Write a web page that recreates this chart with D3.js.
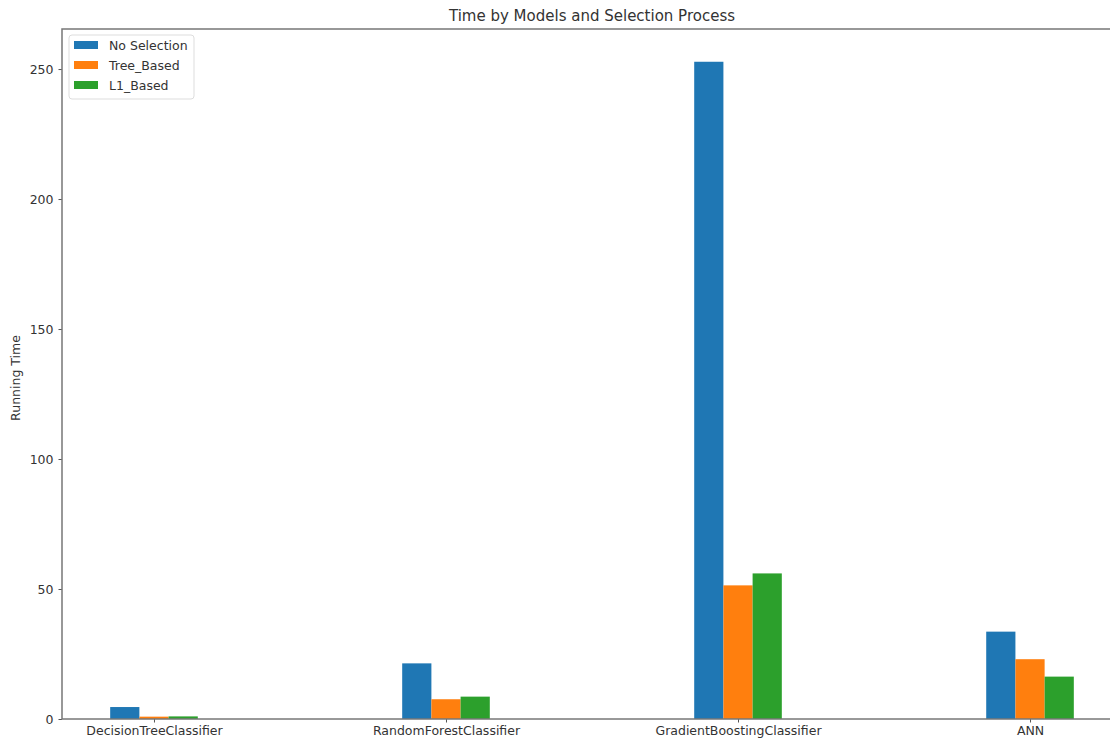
<!DOCTYPE html>
<html><head><meta charset="utf-8">
<script src="https://cdn.jsdelivr.net/npm/d3@7"></script>
<style>
html,body{margin:0;padding:0;background:#fff;overflow:hidden;}
svg{display:block;font-family:"DejaVu Sans",sans-serif;}
</style></head>
<body>
<svg id="chart" width="1110" height="742"></svg>
<script>
const categories = ["DecisionTreeClassifier","RandomForestClassifier","GradientBoostingClassifier","ANN"];
const seriesNames = ["No Selection","Tree_Based","L1_Based"];
const noSelection = [4.6, 21.4, 252.8, 33.6];
const treeBased = [0.9, 7.6, 51.4, 23.0];
const l1Based = [1.0, 8.6, 56.0, 16.3];
const colors = ["#1f77b4","#ff7f0e","#2ca02c"];
const yTicks = [0,50,100,150,200,250];
const title = "Time by Models and Selection Process";
const yLabel = "Running Time";

(function(){
const series = [noSelection, treeBased, l1Based];
const svg = d3.select("#chart");
const mLeft = 62, mRight = 1122, mTop = 29, mBottom = 719;
const barW = 0.1;
const x = d3.scaleLinear().domain([-0.315, 3.315]).range([mLeft, mRight]);
const y = d3.scaleLinear().domain([0, 265.4]).range([mBottom, mTop]);

series.forEach((vals, si) => {
  svg.append("g").selectAll("rect").data(vals).join("rect")
    .attr("x", (d,i) => x(i + (si-1)*barW - barW/2))
    .attr("width", (d,i) => x(i + (si-1)*barW + barW/2) - x(i + (si-1)*barW - barW/2))
    .attr("y", d => y(d))
    .attr("height", d => y(0) - y(d))
    .attr("fill", colors[si]);
});

const xAxis = d3.axisBottom(x).tickValues(d3.range(categories.length))
  .tickFormat(i => categories[i]).tickSize(3.5).tickPadding(4);
const gx = svg.append("g").attr("transform", `translate(0,${mBottom})`).call(xAxis);
const yAxis = d3.axisLeft(y).tickValues(yTicks).tickSize(3.5).tickPadding(5);
const gy = svg.append("g").attr("transform", `translate(${mLeft},0)`).call(yAxis);
[gx, gy].forEach(g => {
  g.select(".domain").remove();
  g.selectAll("line").attr("stroke","#555");
  g.selectAll("text").attr("fill","#333").style("font-size","12.5px").style("font-family","'DejaVu Sans',sans-serif");
});

svg.append("rect").attr("x", mLeft).attr("y", mTop).attr("width", mRight-mLeft).attr("height", mBottom-mTop)
  .attr("fill","none").attr("stroke","#777").attr("stroke-width",1.5);

svg.append("text").attr("x", (mLeft+mRight)/2).attr("y", 21).attr("text-anchor","middle")
  .style("font-size","15px").attr("fill","#333").text(title);

svg.append("text").attr("transform", `translate(20,${(mTop+mBottom)/2 + 4}) rotate(-90)`)
  .attr("text-anchor","middle").style("font-size","12.5px").attr("fill","#333").text(yLabel);

const lg = svg.append("g").attr("transform","translate(69,35)");
lg.append("rect").attr("width",125).attr("height",64).attr("rx",3)
  .attr("fill","#fff").attr("fill-opacity",0.8).attr("stroke","#ddd");
seriesNames.forEach((n,i) => {
  lg.append("rect").attr("x",5).attr("y",6+i*20).attr("width",24).attr("height",8).attr("fill",colors[i]);
  lg.append("text").attr("x",40).attr("y",14.5+i*20).style("font-size","12.5px").attr("fill","#333").text(n);
});
})();
</script>
</body></html>
